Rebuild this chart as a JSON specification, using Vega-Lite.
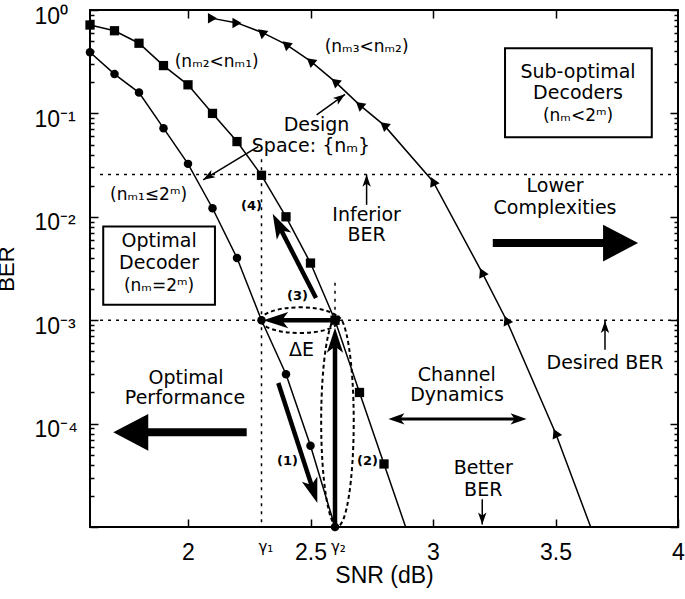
{
  "$schema": "https://vega.github.io/schema/vega-lite/v6.json",
  "width": 588,
  "height": 517,
  "autosize": "none",
  "padding": {"left": 90, "top": 10, "right": 7, "bottom": 72},
  "background": "white",
  "config": {
    "view": {"stroke": "black", "strokeWidth": 2},
    "text": {"font": "DejaVu Sans", "color": "black"}
  },
  "datasets": {
    "curves": [
      {"decoder": "opt", "snr": 1.6, "ber": 0.39},
      {"decoder": "opt", "snr": 1.7, "ber": 0.24},
      {"decoder": "opt", "snr": 1.8, "ber": 0.159},
      {"decoder": "opt", "snr": 1.9, "ber": 0.072},
      {"decoder": "opt", "snr": 2.0, "ber": 0.0325},
      {"decoder": "opt", "snr": 2.1, "ber": 0.0121},
      {"decoder": "opt", "snr": 2.2, "ber": 0.004},
      {"decoder": "opt", "snr": 2.3, "ber": 0.001},
      {"decoder": "opt", "snr": 2.4, "ber": 0.0003},
      {"decoder": "opt", "snr": 2.5, "ber": 0.000061},
      {"decoder": "opt", "snr": 2.6, "ber": 0.00001},
      {"decoder": "sub1", "snr": 1.6, "ber": 0.716},
      {"decoder": "sub1", "snr": 1.7, "ber": 0.63},
      {"decoder": "sub1", "snr": 1.8, "ber": 0.477},
      {"decoder": "sub1", "snr": 1.9, "ber": 0.29},
      {"decoder": "sub1", "snr": 2.0, "ber": 0.189},
      {"decoder": "sub1", "snr": 2.1, "ber": 0.1},
      {"decoder": "sub1", "snr": 2.2, "ber": 0.0534},
      {"decoder": "sub1", "snr": 2.3, "ber": 0.0252},
      {"decoder": "sub1", "snr": 2.4, "ber": 0.01},
      {"decoder": "sub1", "snr": 2.5, "ber": 0.00357},
      {"decoder": "sub1", "snr": 2.6, "ber": 0.001},
      {"decoder": "sub1", "snr": 2.7, "ber": 0.0002},
      {"decoder": "sub1", "snr": 2.8, "ber": 0.0000407},
      {"decoder": "sub1", "snr": 2.9, "ber": 0.0000083},
      {"decoder": "sub2", "snr": 2.1, "ber": 0.83},
      {"decoder": "sub2", "snr": 2.2, "ber": 0.75},
      {"decoder": "sub2", "snr": 2.3, "ber": 0.61},
      {"decoder": "sub2", "snr": 2.4, "ber": 0.466},
      {"decoder": "sub2", "snr": 2.5, "ber": 0.32},
      {"decoder": "sub2", "snr": 2.6, "ber": 0.203},
      {"decoder": "sub2", "snr": 2.7, "ber": 0.121},
      {"decoder": "sub2", "snr": 2.8, "ber": 0.077},
      {"decoder": "sub2", "snr": 3.0, "ber": 0.022},
      {"decoder": "sub2", "snr": 3.2, "ber": 0.0029},
      {"decoder": "sub2", "snr": 3.3, "ber": 0.001},
      {"decoder": "sub2", "snr": 3.5, "ber": 0.000081},
      {"decoder": "sub2", "snr": 3.7, "ber": 0.0000044}
    ],
    "dotted": [
      {"x": 1.641, "y": 0.0257, "x2": 4.0, "y2": 0.0257},
      {"x": 1.641, "y": 0.001, "x2": 4.0, "y2": 0.001},
      {"x": 2.3, "y": 0.036, "x2": 2.3, "y2": 0.00001},
      {"x": 2.6, "y": 0.0023, "x2": 2.6, "y2": 0.001}
    ],
    "boxes": [
      {"x": 1.654, "x2": 2.11, "y": 0.00141, "y2": 0.00806},
      {"x": 3.294, "x2": 3.893, "y": 0.0589, "y2": 0.4266}
    ],
    "ellipses": [
      {"id": "h", "x": 2.457, "y": 0.001},
      {"id": "v", "x": 2.61, "y": 0.000105}
    ],
    "shafts": [
      {"id": "a1", "kind": "thick", "x": 2.3686, "y": 0.000247, "x2": 2.5061, "y2": 0.0000246},
      {"id": "a2", "kind": "thick", "x": 2.6, "y": 0.00001, "x2": 2.6, "y2": 0.00058},
      {"id": "a3", "kind": "thick", "x": 2.6, "y": 0.001, "x2": 2.3796, "y2": 0.001},
      {"id": "a4", "kind": "thick", "x": 2.5224, "y": 0.00164, "x2": 2.3776, "y2": 0.00764},
      {"id": "lc", "kind": "big", "x": 3.244, "y": 0.00557, "x2": 3.7, "y2": 0.00557},
      {"id": "op", "kind": "big", "x": 2.2396, "y": 0.0000824, "x2": 1.835, "y2": 0.0000824},
      {"id": "cd", "kind": "mid", "x": 2.85, "y": 0.000111, "x2": 3.35, "y2": 0.000111},
      {"id": "d1", "kind": "thin", "x": 2.525, "y": 0.0967, "x2": 2.641, "y2": 0.153},
      {"id": "d2", "kind": "thin", "x": 2.287, "y": 0.0478, "x2": 2.062, "y2": 0.0228},
      {"id": "inf", "kind": "thin", "x": 2.729, "y": 0.01305, "x2": 2.729, "y2": 0.0255},
      {"id": "des", "kind": "thin", "x": 3.702, "y": 0.000519, "x2": 3.702, "y2": 0.00098},
      {"id": "bet", "kind": "thin", "x": 3.201, "y": 0.0000185, "x2": 3.201, "y2": 0.0000106}
    ],
    "heads": [
      {"id": "a1", "x": 2.5278, "y": 0.0000171},
      {"id": "a2", "x": 2.6, "y": 0.000847},
      {"id": "a3", "x": 2.307, "y": 0.001},
      {"id": "a4", "x": 2.3457, "y": 0.01069},
      {"id": "lc", "x": 3.837, "y": 0.00557},
      {"id": "op", "x": 1.695, "y": 0.0000824},
      {"id": "cdl", "x": 2.818, "y": 0.000111},
      {"id": "cdr", "x": 3.382, "y": 0.000111},
      {"id": "d1", "x": 2.641, "y": 0.153},
      {"id": "d2", "x": 2.062, "y": 0.0228},
      {"id": "inf", "x": 2.729, "y": 0.0255},
      {"id": "des", "x": 3.702, "y": 0.00098},
      {"id": "bet", "x": 3.201, "y": 0.0000106}
    ],
    "notes": [
      {"group": "big", "text": "Design", "x": 2.5245, "y": 0.0766},
      {"group": "big", "text": "Space: {nₘ}", "x": 2.502, "y": 0.048},
      {"group": "big", "text": "Inferior", "x": 2.729, "y": 0.01045},
      {"group": "big", "text": "BER", "x": 2.729, "y": 0.0067},
      {"group": "big", "text": "Lower", "x": 3.498, "y": 0.01995},
      {"group": "big", "text": "Complexities", "x": 3.498, "y": 0.01222},
      {"group": "big", "text": "Optimal", "x": 1.882, "y": 0.00577},
      {"group": "big", "text": "Decoder", "x": 1.882, "y": 0.0036},
      {"group": "big", "text": "Sub-optimal", "x": 3.592, "y": 0.2535},
      {"group": "big", "text": "Decoders", "x": 3.592, "y": 0.1567},
      {"group": "big", "text": "Optimal", "x": 1.992, "y": 0.000278},
      {"group": "big", "text": "Performance", "x": 1.988, "y": 0.000178},
      {"group": "big", "text": "Channel", "x": 3.097, "y": 0.000297},
      {"group": "big", "text": "Dynamics", "x": 3.098, "y": 0.000191},
      {"group": "big", "text": "Desired BER", "x": 3.702, "y": 0.000384},
      {"group": "big", "text": "Better", "x": 3.205, "y": 0.0000376},
      {"group": "big", "text": "BER", "x": 3.205, "y": 0.000023},
      {"group": "big", "text": "ΔE", "x": 2.463, "y": 0.000519},
      {"group": "mid", "text": "(nₘ=2ᵐ)", "x": 1.882, "y": 0.00215},
      {"group": "mid", "text": "(nₘ<2ᵐ)", "x": 3.592, "y": 0.0952},
      {"group": "mid", "text": "(nₘ₂<nₘ₁)", "x": 2.117, "y": 0.3145},
      {"group": "mid", "text": "(nₘ₃<nₘ₂)", "x": 2.729, "y": 0.4393},
      {"group": "mid", "text": "(nₘ₁≤2ᵐ)", "x": 1.839, "y": 0.0163},
      {"group": "small", "text": "(4)", "x": 2.259, "y": 0.01277},
      {"group": "small", "text": "(3)", "x": 2.447, "y": 0.00171},
      {"group": "small", "text": "(1)", "x": 2.406, "y": 0.0000434},
      {"group": "small", "text": "(2)", "x": 2.733, "y": 0.0000434},
      {"group": "greek", "text": "γ₁", "x": 2.318, "y": 0.00000634},
      {"group": "greek", "text": "γ₂", "x": 2.614, "y": 0.00000634}
    ]
  },
  "resolve": {"axis": {"x": "independent", "y": "independent"}},
  "layer": [
    {
      "layer": [
        {
          "data": {"name": "dotted"},
          "mark": {"type": "rule", "color": "black", "strokeWidth": 1.5, "strokeDash": [3, 5]},
          "encoding": {
            "x": {"field": "x", "type": "quantitative", "scale": {"domain": [1.6, 4], "nice": false, "zero": false},
              "axis": {"orient": "bottom", "values": [2, 2.5, 3, 3.5, 4], "format": "~g", "tickSize": -8, "tickWidth": 1.5, "tickColor": "black", "domain": false, "grid": false,
                "labelFont": "Liberation Sans", "labelFontSize": 23, "labelColor": "black", "labelPadding": 22, "labelFlush": false, "labelOverlap": false, "labelBound": false,
                "title": "SNR (dB)", "titleFont": "Liberation Sans", "titleFontSize": 23, "titleFontWeight": "normal", "titleColor": "black", "titlePadding": 0}},
            "y": {"field": "y", "type": "quantitative", "scale": {"type": "log", "domain": [0.00001, 1], "nice": false},
              "axis": {"orient": "left",
                "values": [0.00001,0.00002,0.00003,0.00004,0.00005,0.00006,0.00007,0.00008,0.00009,0.0001,0.0002,0.0003,0.0004,0.0005,0.0006,0.0007,0.0008,0.0009,0.001,0.002,0.003,0.004,0.005,0.006,0.007,0.008,0.009,0.01,0.02,0.03,0.04,0.05,0.06,0.07,0.08,0.09,0.1,0.2,0.3,0.4,0.5,0.6,0.7,0.8,0.9,1],
                "tickSize": {"condition": {"test": "abs(log(datum.value)/LN10 - round(log(datum.value)/LN10)) < 0.001", "value": -8}, "value": -4},
                "tickWidth": 1.5, "tickColor": "black", "domain": false, "grid": false,
                "labelExpr": "(abs(log(datum.value)/LN10 - round(log(datum.value)/LN10)) < 0.001 && datum.value > 0.00005) ? '10' + ['⁰','⁻¹','⁻²','⁻³','⁻⁴','⁻⁵'][-round(log(datum.value)/LN10)] : ''",
                "labelFont": "Liberation Sans", "labelFontSize": 23, "labelColor": "black", "labelAlign": "left", "labelBaseline": "middle", "labelPadding": 64, "labelOffset": 6,
                "labelOverlap": false, "labelBound": false, "labelFlush": false,
                "title": "BER", "titleFont": "Liberation Sans", "titleFontSize": 22, "titleFontWeight": "normal", "titleColor": "black", "titlePadding": 12}},
            "x2": {"field": "x2"},
            "y2": {"field": "y2"}
          }
        },
        {
          "data": {"name": "boxes"},
          "mark": {"type": "rect", "fill": "white", "fillOpacity": 0, "stroke": "black", "strokeWidth": 2},
          "encoding": {
            "x": {"field": "x", "type": "quantitative"},
            "x2": {"field": "x2"},
            "y": {"field": "y", "type": "quantitative"},
            "y2": {"field": "y2"}
          }
        },
        {
          "data": {"name": "curves"},
          "mark": {"type": "line", "color": "black", "strokeWidth": 1.5, "clip": true},
          "encoding": {
            "x": {"field": "snr", "type": "quantitative"},
            "y": {"field": "ber", "type": "quantitative"},
            "detail": {"field": "decoder"}
          }
        },
        {
          "data": {"name": "curves"},
          "transform": [{"filter": "datum.decoder == 'opt'"}],
          "mark": {"type": "point", "shape": "circle", "filled": true, "color": "black", "size": 72, "opacity": 1},
          "encoding": {
            "x": {"field": "snr", "type": "quantitative"},
            "y": {"field": "ber", "type": "quantitative"}
          }
        },
        {
          "data": {"name": "curves"},
          "transform": [{"filter": "datum.decoder == 'sub1' && datum.ber >= 0.00001"}],
          "mark": {"type": "point", "shape": "square", "filled": true, "color": "black", "size": 86, "opacity": 1},
          "encoding": {
            "x": {"field": "snr", "type": "quantitative"},
            "y": {"field": "ber", "type": "quantitative"}
          }
        },
        {
          "data": {"name": "curves"},
          "transform": [{"filter": "datum.decoder == 'sub2' && datum.snr < 2.25"}],
          "mark": {"type": "point", "shape": "triangle-right", "filled": true, "color": "black", "size": 110, "opacity": 1},
          "encoding": {
            "x": {"field": "snr", "type": "quantitative"},
            "y": {"field": "ber", "type": "quantitative"}
          }
        },
        {
          "data": {"name": "curves"},
          "transform": [{"filter": "datum.decoder == 'sub2' && datum.snr > 2.25 && datum.snr < 2.9"}],
          "mark": {"type": "point", "shape": "triangle-up", "angle": -50, "filled": true, "color": "black", "size": 110, "opacity": 1},
          "encoding": {
            "x": {"field": "snr", "type": "quantitative"},
            "y": {"field": "ber", "type": "quantitative"}
          }
        },
        {
          "data": {"name": "curves"},
          "transform": [{"filter": "datum.decoder == 'sub2' && datum.snr > 2.9 && datum.ber >= 0.00001"}],
          "mark": {"type": "point", "shape": "triangle-up", "angle": -25, "filled": true, "color": "black", "size": 110, "opacity": 1},
          "encoding": {
            "x": {"field": "snr", "type": "quantitative"},
            "y": {"field": "ber", "type": "quantitative"}
          }
        },
        {
          "data": {"name": "ellipses"},
          "transform": [{"filter": "datum.id == 'h'"}],
          "mark": {"type": "point", "shape": "M-1,0 C-1,-0.182 -0.552,-0.33 0,-0.33 C0.552,-0.33 1,-0.182 1,0 C1,0.182 0.552,0.33 0,0.33 C-0.552,0.33 -1,0.182 -1,0 Z", "size": 6084, "filled": false, "stroke": "black", "strokeWidth": 2, "strokeDash": [4, 3], "opacity": 1},
          "encoding": {
            "x": {"field": "x", "type": "quantitative"},
            "y": {"field": "y", "type": "quantitative"}
          }
        },
        {
          "data": {"name": "ellipses"},
          "transform": [{"filter": "datum.id == 'v'"}],
          "mark": {"type": "point", "shape": "M0,-1 C0.0856,-1 0.155,-0.552 0.155,0 C0.155,0.552 0.0856,1 0,1 C-0.0856,1 -0.155,0.552 -0.155,0 C-0.155,-0.552 -0.0856,-1 0,-1 Z", "size": 44100, "filled": false, "stroke": "black", "strokeWidth": 2, "strokeDash": [4, 3], "opacity": 1},
          "encoding": {
            "x": {"field": "x", "type": "quantitative"},
            "y": {"field": "y", "type": "quantitative"}
          }
        },
        {
          "data": {"name": "shafts"},
          "transform": [{"filter": "datum.kind == 'thick'"}],
          "mark": {"type": "rule", "color": "black", "strokeWidth": 4.5},
          "encoding": {
            "x": {"field": "x", "type": "quantitative"},
            "y": {"field": "y", "type": "quantitative"},
            "x2": {"field": "x2"},
            "y2": {"field": "y2"}
          }
        },
        {
          "data": {"name": "shafts"},
          "transform": [{"filter": "datum.kind == 'big'"}],
          "mark": {"type": "rule", "color": "black", "strokeWidth": 8},
          "encoding": {
            "x": {"field": "x", "type": "quantitative"},
            "y": {"field": "y", "type": "quantitative"},
            "x2": {"field": "x2"},
            "y2": {"field": "y2"}
          }
        },
        {
          "data": {"name": "shafts"},
          "transform": [{"filter": "datum.kind == 'mid'"}],
          "mark": {"type": "rule", "color": "black", "strokeWidth": 3},
          "encoding": {
            "x": {"field": "x", "type": "quantitative"},
            "y": {"field": "y", "type": "quantitative"},
            "x2": {"field": "x2"},
            "y2": {"field": "y2"}
          }
        },
        {
          "data": {"name": "shafts"},
          "transform": [{"filter": "datum.kind == 'thin'"}],
          "mark": {"type": "rule", "color": "black", "strokeWidth": 1.5},
          "encoding": {
            "x": {"field": "x", "type": "quantitative"},
            "y": {"field": "y", "type": "quantitative"},
            "x2": {"field": "x2"},
            "y2": {"field": "y2"}
          }
        },
        {
          "data": {"name": "heads"},
          "transform": [{"filter": "datum.id == 'a1'"}],
          "mark": {"type": "point", "shape": "M0,0 L0.65,2 L0,1.5 L-0.65,2 Z", "size": 625, "angle": 162, "filled": true, "color": "black", "strokeWidth": 0, "opacity": 1},
          "encoding": {"x": {"field": "x", "type": "quantitative"}, "y": {"field": "y", "type": "quantitative"}}
        },
        {
          "data": {"name": "heads"},
          "transform": [{"filter": "datum.id == 'a2'"}],
          "mark": {"type": "point", "shape": "M0,0 L0.65,2 L0,1.5 L-0.65,2 Z", "size": 625, "angle": 0, "filled": true, "color": "black", "strokeWidth": 0, "opacity": 1},
          "encoding": {"x": {"field": "x", "type": "quantitative"}, "y": {"field": "y", "type": "quantitative"}}
        },
        {
          "data": {"name": "heads"},
          "transform": [{"filter": "datum.id == 'a3'"}],
          "mark": {"type": "point", "shape": "M0,0 L0.65,2 L0,1.5 L-0.65,2 Z", "size": 625, "angle": 270, "filled": true, "color": "black", "strokeWidth": 0, "opacity": 1},
          "encoding": {"x": {"field": "x", "type": "quantitative"}, "y": {"field": "y", "type": "quantitative"}}
        },
        {
          "data": {"name": "heads"},
          "transform": [{"filter": "datum.id == 'a4'"}],
          "mark": {"type": "point", "shape": "M0,0 L0.65,2 L0,1.5 L-0.65,2 Z", "size": 625, "angle": -27, "filled": true, "color": "black", "strokeWidth": 0, "opacity": 1},
          "encoding": {"x": {"field": "x", "type": "quantitative"}, "y": {"field": "y", "type": "quantitative"}}
        },
        {
          "data": {"name": "heads"},
          "transform": [{"filter": "datum.id == 'lc'"}],
          "mark": {"type": "point", "shape": "M0,0 L1.05,2 L-1.05,2 Z", "size": 1225, "angle": 90, "filled": true, "color": "black", "strokeWidth": 0, "opacity": 1},
          "encoding": {"x": {"field": "x", "type": "quantitative"}, "y": {"field": "y", "type": "quantitative"}}
        },
        {
          "data": {"name": "heads"},
          "transform": [{"filter": "datum.id == 'op'"}],
          "mark": {"type": "point", "shape": "M0,0 L1.05,2 L-1.05,2 Z", "size": 1225, "angle": 270, "filled": true, "color": "black", "strokeWidth": 0, "opacity": 1},
          "encoding": {"x": {"field": "x", "type": "quantitative"}, "y": {"field": "y", "type": "quantitative"}}
        },
        {
          "data": {"name": "heads"},
          "transform": [{"filter": "datum.id == 'cdl'"}],
          "mark": {"type": "point", "shape": "M0,0 L0.7,2 L0,1.5 L-0.7,2 Z", "size": 256, "angle": 270, "filled": true, "color": "black", "strokeWidth": 0, "opacity": 1},
          "encoding": {"x": {"field": "x", "type": "quantitative"}, "y": {"field": "y", "type": "quantitative"}}
        },
        {
          "data": {"name": "heads"},
          "transform": [{"filter": "datum.id == 'cdr'"}],
          "mark": {"type": "point", "shape": "M0,0 L0.7,2 L0,1.5 L-0.7,2 Z", "size": 256, "angle": 90, "filled": true, "color": "black", "strokeWidth": 0, "opacity": 1},
          "encoding": {"x": {"field": "x", "type": "quantitative"}, "y": {"field": "y", "type": "quantitative"}}
        },
        {
          "data": {"name": "heads"},
          "transform": [{"filter": "datum.id == 'd1'"}],
          "mark": {"type": "point", "shape": "M0,0 L0.7,2 L0,1.5 L-0.7,2 Z", "size": 144, "angle": 54, "filled": true, "color": "black", "strokeWidth": 0, "opacity": 1},
          "encoding": {"x": {"field": "x", "type": "quantitative"}, "y": {"field": "y", "type": "quantitative"}}
        },
        {
          "data": {"name": "heads"},
          "transform": [{"filter": "datum.id == 'd2'"}],
          "mark": {"type": "point", "shape": "M0,0 L0.7,2 L0,1.5 L-0.7,2 Z", "size": 144, "angle": 239, "filled": true, "color": "black", "strokeWidth": 0, "opacity": 1},
          "encoding": {"x": {"field": "x", "type": "quantitative"}, "y": {"field": "y", "type": "quantitative"}}
        },
        {
          "data": {"name": "heads"},
          "transform": [{"filter": "datum.id == 'inf' || datum.id == 'des'"}],
          "mark": {"type": "point", "shape": "M0,0 L0.7,2 L0,1.5 L-0.7,2 Z", "size": 144, "angle": 0, "filled": true, "color": "black", "strokeWidth": 0, "opacity": 1},
          "encoding": {"x": {"field": "x", "type": "quantitative"}, "y": {"field": "y", "type": "quantitative"}}
        },
        {
          "data": {"name": "heads"},
          "transform": [{"filter": "datum.id == 'bet'"}],
          "mark": {"type": "point", "shape": "M0,0 L0.7,2 L0,1.5 L-0.7,2 Z", "size": 144, "angle": 180, "filled": true, "color": "black", "strokeWidth": 0, "opacity": 1},
          "encoding": {"x": {"field": "x", "type": "quantitative"}, "y": {"field": "y", "type": "quantitative"}}
        },
        {
          "data": {"name": "notes"},
          "transform": [{"filter": "datum.group == 'big'"}],
          "mark": {"type": "text", "font": "DejaVu Sans", "fontSize": 19, "align": "center", "baseline": "middle", "color": "black"},
          "encoding": {"x": {"field": "x", "type": "quantitative"}, "y": {"field": "y", "type": "quantitative"}, "text": {"field": "text"}}
        },
        {
          "data": {"name": "notes"},
          "transform": [{"filter": "datum.group == 'mid'"}],
          "mark": {"type": "text", "font": "DejaVu Sans", "fontSize": 17, "align": "center", "baseline": "middle", "color": "black"},
          "encoding": {"x": {"field": "x", "type": "quantitative"}, "y": {"field": "y", "type": "quantitative"}, "text": {"field": "text"}}
        },
        {
          "data": {"name": "notes"},
          "transform": [{"filter": "datum.group == 'small'"}],
          "mark": {"type": "text", "font": "DejaVu Sans", "fontSize": 13, "fontWeight": "bold", "align": "center", "baseline": "middle", "color": "black"},
          "encoding": {"x": {"field": "x", "type": "quantitative"}, "y": {"field": "y", "type": "quantitative"}, "text": {"field": "text"}}
        },
        {
          "data": {"name": "notes"},
          "transform": [{"filter": "datum.group == 'greek'"}],
          "mark": {"type": "text", "font": "DejaVu Sans", "fontSize": 15, "align": "center", "baseline": "middle", "color": "black"},
          "encoding": {"x": {"field": "x", "type": "quantitative"}, "y": {"field": "y", "type": "quantitative"}, "text": {"field": "text"}}
        }
      ]
    },
    {
      "data": {"name": "curves"},
      "mark": {"type": "point", "opacity": 0},
      "encoding": {
        "x": {"field": "snr", "type": "quantitative",
          "axis": {"orient": "top", "values": [2, 2.5, 3, 3.5], "tickSize": -8, "tickWidth": 1.5, "tickColor": "black", "domain": false, "grid": false, "labels": false, "title": null}},
        "y": {"field": "ber", "type": "quantitative",
          "axis": {"orient": "right",
            "values": [0.00001,0.00002,0.00003,0.00004,0.00005,0.00006,0.00007,0.00008,0.00009,0.0001,0.0002,0.0003,0.0004,0.0005,0.0006,0.0007,0.0008,0.0009,0.001,0.002,0.003,0.004,0.005,0.006,0.007,0.008,0.009,0.01,0.02,0.03,0.04,0.05,0.06,0.07,0.08,0.09,0.1,0.2,0.3,0.4,0.5,0.6,0.7,0.8,0.9,1],
            "tickSize": {"condition": {"test": "abs(log(datum.value)/LN10 - round(log(datum.value)/LN10)) < 0.001", "value": -8}, "value": -4},
            "tickWidth": 1.5, "tickColor": "black", "domain": false, "grid": false, "labels": false, "title": null}}
      }
    }
  ]
}
